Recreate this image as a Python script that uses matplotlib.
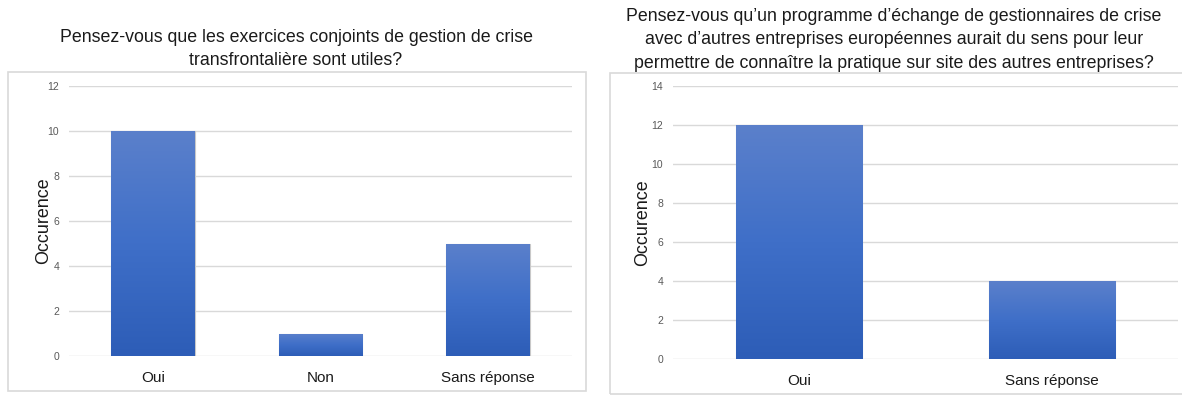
import numpy as np
import matplotlib
matplotlib.use("Agg")
import matplotlib.pyplot as plt
from matplotlib.patches import Rectangle
from matplotlib.colors import LinearSegmentedColormap

plt.rcParams["font.family"] = ["Liberation Sans", "DejaVu Sans"]

# Chart 1: cross-border crisis exercises
title_1 = "Pensez-vous que les exercices conjoints de gestion de crise\ntransfrontalière sont utiles?"
categories_1 = ["Oui", "Non", "Sans réponse"]
values_1 = [10, 1, 5]
yticks_1 = [0, 2, 4, 6, 8, 10, 12]

# Chart 2: exchange programme for crisis managers
title_2 = ("Pensez-vous qu\u2019un programme d\u2019échange de gestionnaires de crise\n"
           "avec d\u2019autres entreprises européennes aurait du sens pour leur\n"
           "permettre de connaître la pratique sur site des autres entreprises?")
categories_2 = ["Oui", "Sans réponse"]
values_2 = [12, 4]
yticks_2 = [0, 2, 4, 6, 8, 10, 12, 14]

ylabel = "Occurence"

W, H = 1182, 395
fig = plt.figure(figsize=(W / 100, H / 100), dpi=100)

grad = LinearSegmentedColormap.from_list("blue_grad", ["#2D5DB7", "#3F6FC8", "#5B80CB"])
gradient = np.linspace(0, 1, 256).reshape(-1, 1)


def px_box(x0, y0, x1, y1):
    return [x0 / W, 1 - y1 / H, (x1 - x0) / W, (y1 - y0) / H]


def frame(x0, y0, x1, y1):
    fig.patches.append(Rectangle((x0 / W, 1 - y1 / H), (x1 - x0) / W, (y1 - y0) / H,
                                 transform=fig.transFigure, fill=False,
                                 edgecolor="#D9D9D9", linewidth=1.2, zorder=0))


def draw(ax, cats, vals, ticks, labelpad):
    x = np.arange(len(cats))
    bars = ax.bar(x, vals, width=0.5, color="#4472C4", edgecolor="#C8C8C8",
                  linewidth=0.8, zorder=2)
    for b in bars:
        bx, by = b.get_x(), b.get_y()
        bw, bh = b.get_width(), b.get_height()
        im = ax.imshow(gradient, cmap=grad, origin="lower", aspect="auto",
                       extent=[bx, bx + bw, by, by + bh], zorder=3)
        im.set_clip_path(b)
    ax.set_xlim(-0.5, len(cats) - 0.5)
    ax.set_ylim(0, ticks[-1])
    ax.set_yticks(ticks)
    ax.set_xticks(x)
    ax.set_xticklabels(cats, fontsize=11, color="#1A1A1A")
    ax.tick_params(axis="y", labelsize=7.5, labelcolor="#595959", length=0, pad=7)
    ax.tick_params(axis="x", length=0, pad=11)
    ax.grid(axis="y", color="#D9D9D9", linewidth=1.0, zorder=0)
    ax.set_axisbelow(True)
    for s in ax.spines.values():
        s.set_visible(False)
    ax.set_ylabel(ylabel, fontsize=12.9, color="#1A1A1A", labelpad=labelpad)
    ax.set_aspect("auto")
    return ax


frame(8, 72, 586, 391)
frame(610, 73, 1190, 394)

ax1 = fig.add_axes(px_box(69, 86, 572, 356))
draw(ax1, categories_1, values_1, yticks_1, -3)
fig.text(296 / W, 1 - 49 / H, title_1, ha="center", va="center", fontsize=12.8,
         color="#1A1A1A", linespacing=1.48)

ax2 = fig.add_axes(px_box(673, 86, 1178, 359))
draw(ax2, categories_2, values_2, yticks_2, 0)
fig.text(894 / W, 1 - 40 / H, title_2, ha="center", va="center", fontsize=12.8,
         color="#1A1A1A", linespacing=1.48)

fig.savefig("out.png", dpi=100)
